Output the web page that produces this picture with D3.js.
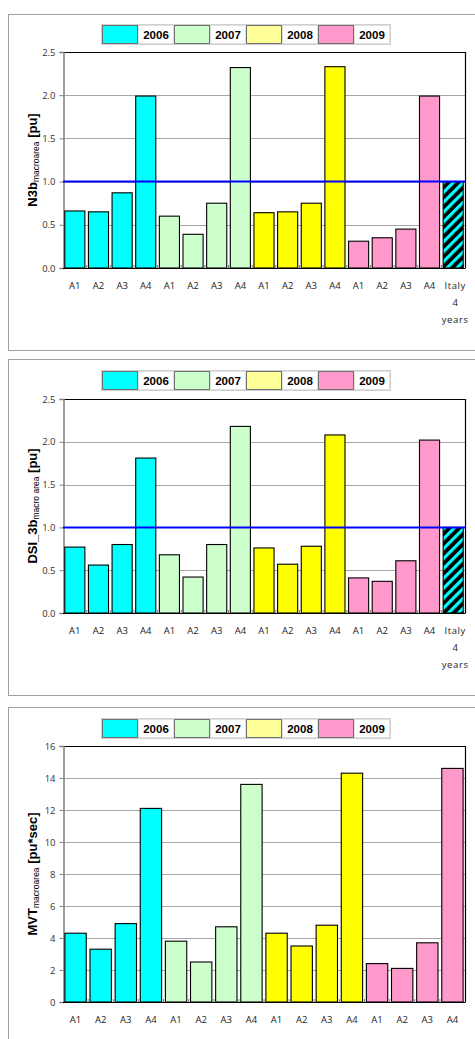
<!DOCTYPE html>
<html><head><meta charset="utf-8">
<script src="https://cdn.jsdelivr.net/npm/d3@7"></script>
<style>
html,body{margin:0;padding:0;background:#fff;}
svg{display:block;}
</style></head>
<body>
<script>
const years = ["2006","2007","2008","2009"];
const areas = ["A1","A2","A3","A4"];
const barColors = ["#00ffff","#ccffcc","#ffff00","#ff99cc"];
const legendColors = ["#00ffff","#ccffcc","#ffff99","#ff99cc"];

const n3bValues = [
  [0.66,0.65,0.87,1.99],
  [0.60,0.39,0.75,2.32],
  [0.64,0.65,0.75,2.33],
  [0.31,0.35,0.45,1.99]
];
const n3bItaly = 1.0;
const dsiValues = [
  [0.77,0.56,0.80,1.81],
  [0.68,0.42,0.80,2.18],
  [0.76,0.57,0.78,2.08],
  [0.41,0.37,0.61,2.02]
];
const dsiItaly = 1.0;
const mvtValues = [
  [4.3,3.3,4.9,12.1],
  [3.8,2.5,4.7,13.6],
  [4.3,3.5,4.8,14.3],
  [2.4,2.1,3.7,14.6]
];
const puTicks = [0,0.5,1.0,1.5,2.0,2.5];
const mvtTicks = [0,2,4,6,8,10,12,14,16];
const italyLabel = ["Italy","4","years"];
const refLine = 1.0;

const W = 475, H = 1039;
const svg = d3.select("body").append("svg").attr("width",W).attr("height",H);

const defs = svg.append("defs");
const pat = defs.append("pattern").attr("id","hatch").attr("patternUnits","userSpaceOnUse")
  .attr("width",7).attr("height",7).attr("patternTransform","rotate(45)");
pat.append("rect").attr("width",7).attr("height",7).attr("fill","#000");
pat.append("rect").attr("x",0).attr("y",0).attr("width",3.2).attr("height",7).attr("fill","#00ffff");

function drawPanel(cfg){
  const g = svg.append("g");
  g.append("rect").attr("x",8.5).attr("y",cfg.boxTop+0.5).attr("width",470).attr("height",cfg.boxH)
    .attr("fill","#fff").attr("stroke","#a0a0a0").attr("stroke-width",1);

  const lx = 102, ly = cfg.legendY, sw = 36, lw = 36, lh = 19;
  g.append("rect").attr("x",lx-0.5).attr("y",ly-0.5).attr("width",4*(sw+lw)+1).attr("height",lh+1)
    .attr("fill","#fff").attr("stroke","#d0d0d0");
  years.forEach((y,i)=>{
    const x0 = lx + i*(sw+lw);
    g.append("rect").attr("x",x0+0.5).attr("y",ly+0.5).attr("width",sw-1).attr("height",lh-1)
      .attr("fill",legendColors[i]).attr("stroke","#707070");
    g.append("rect").attr("x",x0+sw+0.5).attr("y",ly+0.5).attr("width",lw-1).attr("height",lh-1)
      .attr("fill","#fff").attr("stroke","#e0e0e0");
    g.append("text").attr("x",x0+sw+lw/2).attr("y",ly+14).attr("text-anchor","middle")
      .attr("font-family","Liberation Sans, Arial, sans-serif").attr("font-weight","bold")
      .attr("font-size",11.5).attr("fill","#000").text(y);
  });

  const left = 63, right = 465;
  const cats = [];
  const vals = [];
  years.forEach((y,i)=>areas.forEach((a,j)=>{cats.push(y+"-"+a); vals.push({cat:y+"-"+a,label:a,v:cfg.values[i][j],color:barColors[i]});}));
  if(cfg.italy!==undefined){cats.push("Italy"); vals.push({cat:"Italy",label:"Italy",v:cfg.italy,color:"url(#hatch)"});}

  const x = d3.scaleBand().domain(cats).range([left,right]).paddingInner(0.15).paddingOuter(0.075);
  const y = d3.scaleLinear().domain([0,cfg.max]).range([cfg.bottom,cfg.top]);

  g.append("g").selectAll("line").data(cfg.ticks.slice(1)).join("line")
    .attr("x1",left).attr("x2",right).attr("y1",d=>Math.round(y(d))+0.5).attr("y2",d=>Math.round(y(d))+0.5)
    .attr("stroke","#a6a6a6").attr("stroke-width",1);
  g.append("path").attr("d",`M${left},${cfg.top+0.5}H${right+0.5}V${cfg.bottom}`)
    .attr("fill","none").attr("stroke","#000").attr("stroke-width",1.2);

  const yAxis = d3.axisLeft(y).tickValues(cfg.ticks).tickSize(4).tickPadding(4)
    .tickFormat(cfg.fmt);
  const ya = g.append("g").attr("transform",`translate(${left+0.5},0)`).call(yAxis);
  ya.select(".domain").attr("stroke","#808080").attr("stroke-width",1.5);
  ya.selectAll(".tick line").attr("stroke","#808080");
  ya.selectAll(".tick text").attr("font-family","Open Sans, Liberation Sans, sans-serif")
    .attr("font-size",9.5).attr("fill","#333");

  g.append("g").selectAll("rect").data(vals).join("rect")
    .attr("x",d=>x(d.cat)).attr("width",x.bandwidth())
    .attr("y",d=>y(d.v)).attr("height",d=>y(0)-y(d.v))
    .attr("fill",d=>d.color).attr("stroke","#000").attr("stroke-width",1.1);

  g.append("line").attr("x1",left).attr("x2",right+0.5).attr("y1",cfg.bottom+0.5).attr("y2",cfg.bottom+0.5)
    .attr("stroke","#000").attr("stroke-width",1.2);
  g.append("g").selectAll("line").data(cats.slice(1)).join("line")
    .attr("x1",d=>x(d)-x.step()*0.075).attr("x2",d=>x(d)-x.step()*0.075)
    .attr("y1",cfg.bottom).attr("y2",cfg.bottom-3).attr("stroke","#808080");

  const xl = g.append("g");
  vals.forEach(d=>{
    const cx = x(d.cat)+x.bandwidth()/2;
    if(d.cat==="Italy"){
      italyLabel.forEach((t,k)=>{
        xl.append("text").attr("x",cx+2).attr("y",cfg.bottom+21+k*17).attr("text-anchor","middle")
          .attr("font-family","Open Sans, Liberation Sans, sans-serif").attr("font-size",9.5)
          .attr("letter-spacing",k!==1?0.6:0).attr("fill","#222").text(t);
      });
    } else {
      xl.append("text").attr("x",cx).attr("y",cfg.bottom+21).attr("text-anchor","middle")
        .attr("font-family","Open Sans, Liberation Sans, sans-serif").attr("font-size",9.5)
        .attr("fill","#222").text(d.label);
    }
  });

  if(cfg.ref){
    g.append("line").attr("x1",left).attr("x2",right).attr("y1",y(refLine)).attr("y2",y(refLine))
      .attr("stroke","#0000ff").attr("stroke-width",2);
  }

  const yl = g.append("text").attr("transform",`translate(${cfg.labelX},${(cfg.top+cfg.bottom)/2}) rotate(-90)`)
    .attr("text-anchor","middle").attr("font-family","Liberation Sans, Arial, sans-serif")
    .attr("font-weight","bold").attr("font-size",13).attr("fill","#000");
  yl.append("tspan").text(cfg.label[0]);
  yl.append("tspan").attr("font-size",8.5).attr("font-weight","normal").attr("dy",2).text(cfg.label[1]);
  yl.append("tspan").attr("dy",-2).text(cfg.label[2]);
}

drawPanel({boxTop:14, boxH:336, legendY:25, top:52, bottom:268, max:2.5, ticks:puTicks,
  fmt:d3.format(".1f"), values:n3bValues, italy:n3bItaly, ref:true, labelX:37,
  label:["N3b","macroarea"," [pu]"]});
drawPanel({boxTop:359, boxH:336, legendY:371, top:399, bottom:613, max:2.5, ticks:puTicks,
  fmt:d3.format(".1f"), values:dsiValues, italy:dsiItaly, ref:true, labelX:37,
  label:["DSI_3b","macro area"," [pu]"]});
drawPanel({boxTop:707, boxH:340, legendY:719, top:746, bottom:1002, max:16, ticks:mvtTicks,
  fmt:d3.format("d"), values:mvtValues, ref:false, labelX:37,
  label:["MVT","macroarea"," [pu*sec]"]});
</script>
</body></html>
